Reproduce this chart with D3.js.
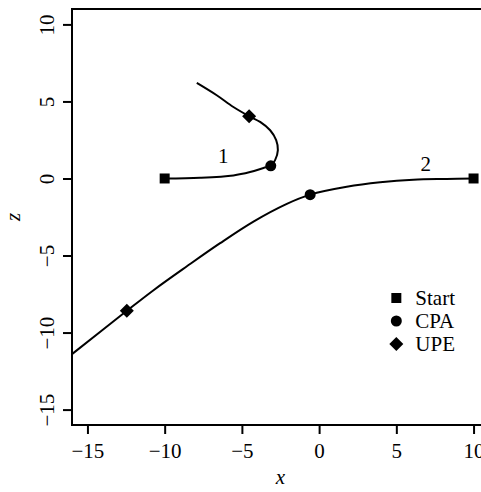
<!DOCTYPE html>
<html><head><meta charset="utf-8">
<script src="https://cdn.jsdelivr.net/npm/d3@7"></script>
<style>body{margin:0;background:#fff}</style>
</head><body><svg id="c" width="481" height="492"></svg>
<script>
// Data
const curve1X = [-10, -7.7, -5.55, -4.47, -3.6, -3.13, -2.85, -2.67, -2.78, -3.17, -3.82, -4.53, -5.55, -6.63, -7.92];
const curve1Z = [0, 0.05, 0.2, 0.42, 0.68, 0.82, 1.19, 1.84, 2.49, 3.13, 3.67, 4.04, 4.64, 5.4, 6.2];
const curve2X = [10, 8.26, 6.1, 3.95, 1.79, -0.58, -2.09, -4.25, -6.41, -8.56, -10.72, -12.45, -16];
const curve2Z = [0, -0.03, -0.08, -0.25, -0.54, -1.05, -1.65, -2.8, -4.2, -5.7, -7.25, -8.59, -11.4];
const startPts = [[-10, 0], [10, 0]];
const cpaPts = [[-3.13, 0.82], [-0.58, -1.05]];
const upePts = [[-4.53, 4.04], [-12.45, -8.59]];
const curveLabels = ["1", "2"];
const curveLabelPos = [[-6.2, 1.5], [6.9, 0.95]];
const xTicks = [-15, -10, -5, 0, 5, 10];
const yTicks = [-15, -10, -5, 0, 5, 10];
const legendLabels = ["Start", "CPA", "UPE"];

const FONT = "Liberation Serif, DejaVu Serif, serif";
const svg = d3.select("#c");
const L = 72, R = 489, T = 9, B = 425;
const x = d3.scaleLinear().domain([-16, 11]).range([L, R]);
const y = d3.scaleLinear().domain([-16, 11]).range([B, T]);
const fs = 21;
const fmt = d => d < 0 ? "\u2212" + Math.abs(d) : String(d);

svg.append("defs").append("clipPath").attr("id", "clip")
  .append("rect").attr("x", L).attr("y", T).attr("width", R - L).attr("height", B - T);

function styleText(sel) { return sel.style("font-family", FONT).style("font-size", fs + "px").style("fill", "#000"); }

// axes
const xa = svg.append("g").attr("transform", `translate(0,${B})`)
  .call(d3.axisBottom(x).tickValues(xTicks).tickSize(9).tickFormat(fmt));
xa.select(".domain").remove();
xa.selectAll("line").attr("stroke", "#000").attr("stroke-width", 2);
styleText(xa.selectAll("text").attr("dy", null).attr("y", 33));

const ya = svg.append("g").attr("transform", `translate(${L},0)`)
  .call(d3.axisLeft(y).tickValues(yTicks).tickSize(9).tickFormat(fmt));
ya.select(".domain").remove();
ya.selectAll("line").attr("stroke", "#000").attr("stroke-width", 2);
styleText(ya.selectAll("text").attr("x", null).attr("dy", null)
  .attr("text-anchor", "middle")
  .attr("transform", "translate(-18,0) rotate(-90)"));

// box (right side falls outside the window)
svg.append("rect").attr("x", L).attr("y", T).attr("width", R - L).attr("height", B - T)
  .attr("fill", "none").attr("stroke", "#000").attr("stroke-width", 2);

// titles
styleText(svg.append("text").attr("x", (L + R) / 2).attr("y", 484).attr("text-anchor", "middle")
  .style("font-style", "italic").text("x"));
styleText(svg.append("text").attr("transform", `translate(20,${(T + B) / 2}) rotate(-90)`).attr("text-anchor", "middle")
  .style("font-style", "italic").text("z"));

// curves
const line = d3.line().x(d => x(d[0])).y(d => y(d[1])).curve(d3.curveCatmullRom.alpha(0.5));
const g = svg.append("g").attr("clip-path", "url(#clip)");
[[curve1X, curve1Z], [curve2X, curve2Z]].forEach(([xs, zs]) => {
  g.append("path").datum(xs.map((v, i) => [v, zs[i]])).attr("d", line)
    .attr("fill", "none").attr("stroke", "#000").attr("stroke-width", 2);
});

// markers
const sq = d3.symbol().type(d3.symbolSquare).size(100);
const ci = d3.symbol().type(d3.symbolCircle).size(95);
function diamond(cx, cy, r) { return `M${cx},${cy - r}L${cx + r},${cy}L${cx},${cy + r}L${cx - r},${cy}Z`; }
startPts.forEach(p => g.append("path").attr("d", sq).attr("transform", `translate(${x(p[0])},${y(p[1])})`));
cpaPts.forEach(p => g.append("path").attr("d", ci).attr("transform", `translate(${x(p[0])},${y(p[1])})`));
upePts.forEach(p => g.append("path").attr("d", diamond(x(p[0]), y(p[1]), 7)));

// curve labels
curveLabels.forEach((t, i) => styleText(svg.append("text").attr("x", x(curveLabelPos[i][0])).attr("y", y(curveLabelPos[i][1]))
  .attr("text-anchor", "middle").attr("dy", "0.35em").text(t)));

// legend
const lx = x(5), ly0 = 298, ldy = 23;
legendLabels.forEach((t, i) => {
  const cy = ly0 + i * ldy;
  if (i === 0) svg.append("path").attr("d", sq).attr("transform", `translate(${lx},${cy})`);
  if (i === 1) svg.append("path").attr("d", ci).attr("transform", `translate(${lx},${cy})`);
  if (i === 2) svg.append("path").attr("d", diamond(lx, cy, 7));
  styleText(svg.append("text").attr("x", lx + 19).attr("y", cy).attr("dy", "0.35em").text(t));
});
</script></body></html>
